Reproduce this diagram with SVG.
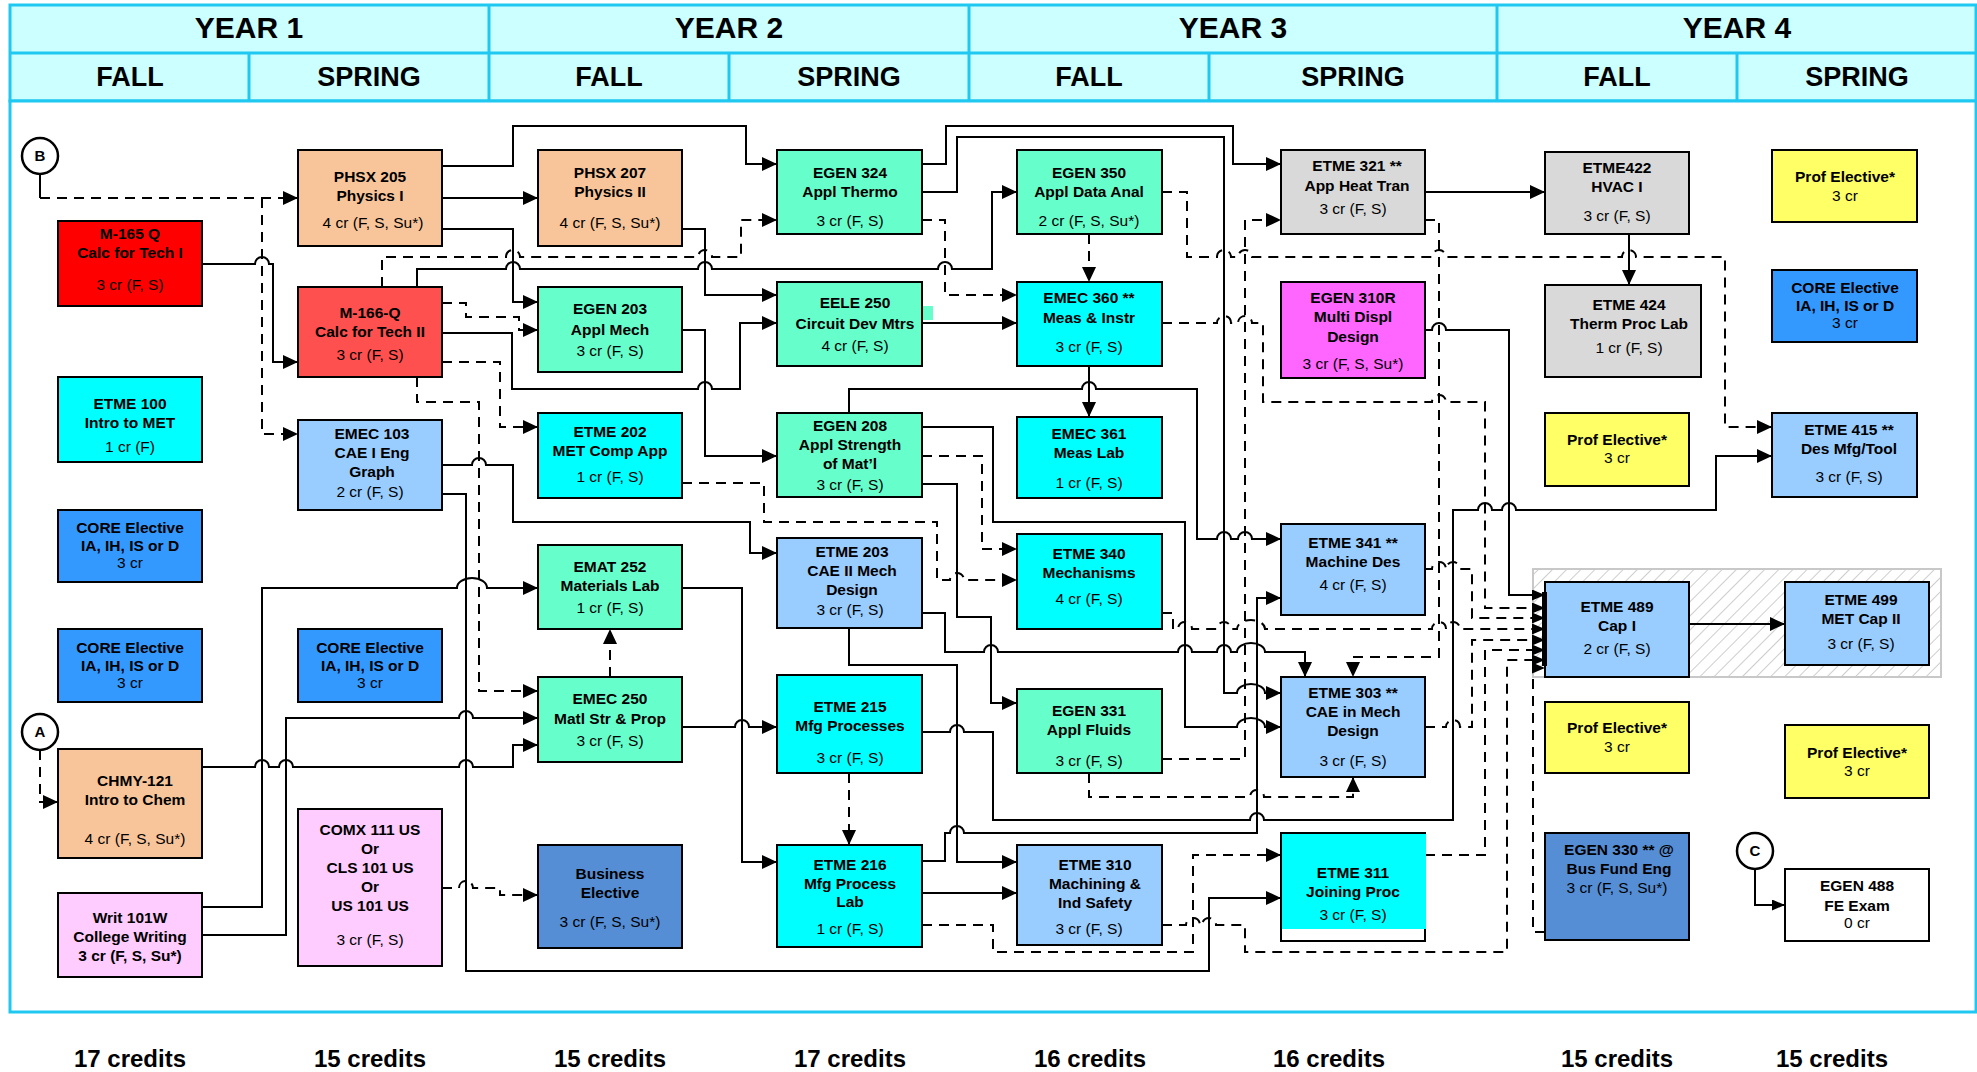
<svg xmlns="http://www.w3.org/2000/svg" width="1977" height="1072" viewBox="0 0 1977 1072">
<defs>
<style>
.hd{fill:#CCFFFF;stroke:#1EC8F0;stroke-width:3}
.hl{stroke:#1EC8F0;stroke-width:3}
.yr{font:bold 30px "Liberation Sans",Arial,sans-serif;text-anchor:middle;fill:#000}
.se{font:bold 27px "Liberation Sans",Arial,sans-serif;text-anchor:middle;fill:#000}
.cr{font:bold 24px "Liberation Sans",Arial,sans-serif;text-anchor:middle;fill:#000}
.n rect.b{stroke:#000;stroke-width:2}
.t{font:bold 15.5px "Liberation Sans",Arial,sans-serif;text-anchor:middle;fill:#000}
.c{font:15.5px "Liberation Sans",Arial,sans-serif;text-anchor:middle;fill:#000}
.s{fill:none;stroke:#000;stroke-width:2}
.d{fill:none;stroke:#000;stroke-width:2;stroke-dasharray:10 7}
.a{marker-end:url(#ah)}
.a2{marker-end:url(#ah2)}
.ci{fill:#fff;stroke:#000;stroke-width:2.5}
.cl{font:bold 15px "Liberation Sans",Arial,sans-serif;text-anchor:middle;fill:#000}
</style>
<marker id="ah" markerUnits="userSpaceOnUse" markerWidth="16" markerHeight="14" refX="15" refY="7" orient="auto"><path d="M0,0 L15,7 L0,14 z" fill="#000"/></marker>
<marker id="ah2" markerUnits="userSpaceOnUse" markerWidth="14" markerHeight="11" refX="13" refY="5.5" orient="auto"><path d="M0,0 L13,5.5 L0,11 z" fill="#000"/></marker>
<pattern id="hatch" patternUnits="userSpaceOnUse" width="10" height="10" patternTransform="rotate(45)"><line x1="0" y1="0" x2="0" y2="10" stroke="#BDBDBD" stroke-width="1.5"/></pattern>
</defs>

<g id="header">
<rect class="hd" x="10" y="5" width="1966" height="96"/>
<line class="hl" x1="10" y1="53" x2="1976" y2="53"/>
<line class="hl" x1="489" y1="5" x2="489" y2="101"/>
<line class="hl" x1="969" y1="5" x2="969" y2="101"/>
<line class="hl" x1="1497" y1="5" x2="1497" y2="101"/>
<line class="hl" x1="249" y1="53" x2="249" y2="101"/>
<line class="hl" x1="729" y1="53" x2="729" y2="101"/>
<line class="hl" x1="1209" y1="53" x2="1209" y2="101"/>
<line class="hl" x1="1737" y1="53" x2="1737" y2="101"/>
<text class="yr" x="249" y="38">YEAR 1</text>
<text class="yr" x="729" y="38">YEAR 2</text>
<text class="yr" x="1233" y="38">YEAR 3</text>
<text class="yr" x="1737" y="38">YEAR 4</text>
<text class="se" x="130" y="86">FALL</text>
<text class="se" x="369" y="86">SPRING</text>
<text class="se" x="609" y="86">FALL</text>
<text class="se" x="849" y="86">SPRING</text>
<text class="se" x="1089" y="86">FALL</text>
<text class="se" x="1353" y="86">SPRING</text>
<text class="se" x="1617" y="86">FALL</text>
<text class="se" x="1857" y="86">SPRING</text>
</g>
<rect x="10" y="101" width="1966" height="911" fill="#fff" stroke="#1EC8F0" stroke-width="3"/>
<g id="credits">
<text class="cr" x="130" y="1067">17 credits</text>
<text class="cr" x="370" y="1067">15 credits</text>
<text class="cr" x="610" y="1067">15 credits</text>
<text class="cr" x="850" y="1067">17 credits</text>
<text class="cr" x="1090" y="1067">16 credits</text>
<text class="cr" x="1329" y="1067">16 credits</text>
<text class="cr" x="1617" y="1067">15 credits</text>
<text class="cr" x="1832" y="1067">15 credits</text>
</g>
<rect id="capstone-band" x="1533" y="569" width="408" height="108" fill="url(#hatch)" stroke="#C8C8C8" stroke-width="2"/>

<g id="connectors">
<path class="s" d="M40,174 V198"/>
<path class="d a" d="M40,198 H298"/>
<path class="d a" d="M262,198 V434 H298"/>
<path class="s a" d="M202,264 H255 a7,7 0 0 1 14,0 H273 V362 H298"/>
<path class="s a" d="M442,198 H538"/>
<path class="s a" d="M442,166 H513 V126 H746 V164 H777"/>
<path class="s a" d="M442,229 H513 V302 H538"/>
<path class="d a" d="M382,287 V257 H506 a7,7 0 0 1 14,0 H698 a7,7 0 0 1 14,0 H741 V220 H777"/>
<path class="s a" d="M417,287 V269 H506 a7,7 0 0 1 14,0 H698 a7,7 0 0 1 14,0 H938 a7,7 0 0 1 14,0 H992 V192 H1017"/>
<path class="d a" d="M442,303 H466 V317 H519 V330 H538"/>
<path class="s a" d="M442,333 H512 V389 H698 a7,7 0 0 1 14,0 H740 V323 H777"/>
<path class="d a" d="M442,362 H500 V427 H538"/>
<path class="d a" d="M417,377 V402 H479 V691 H538"/>
<path class="s a" d="M442,465 H472 a7,7 0 0 1 14,0 H513 V522 H750 V553 H777"/>
<path class="s a" d="M442,494 H466 V971 H1209 V898 H1281"/>
<path class="s a" d="M202,907 H262 V588 H457 a15,10 0 0 1 30,0 H538"/>
<path class="s a" d="M202,935 H286 V718 H459 a7,7 0 0 1 14,0 H538"/>
<path class="s a" d="M202,767 H255 a7,7 0 0 1 14,0 H279 a7,7 0 0 1 14,0 H459 a7,7 0 0 1 14,0 H513 V745 H538"/>
<path class="d a" d="M40,750 V802 H58"/>
<path class="d a" d="M442,888 H459 a7,7 0 0 1 14,0 H500 V895 H538"/>
<path class="s a" d="M682,229 H705 V295 H777"/>
<path class="s a" d="M682,330 H705 V456 H777"/>
<path class="s a" d="M682,588 H742 V862 H777"/>
<path class="d a" d="M610,677 V629"/>
<path class="s a" d="M682,727 H735 a7,7 0 0 1 14,0 H777"/>
<path class="d a" d="M849,773 V845"/>
<path class="d a" d="M682,483 H764 V522 H937 V580 H950 a7,7 0 0 1 14,0 H1017"/>
<path class="s a" d="M922,164 H946 V126 H1233 V164 H1281"/>
<path class="s a" d="M922,192 H957 V137 H1224 V693 H1237 a14,9 0 0 1 28,0 H1281"/>
<path class="d a" d="M922,220 H945 V295 H1017"/>
<path class="s a" d="M922,323 H1017"/>
<path class="d a" d="M1089,234 V282"/>
<path class="d a" d="M1162,192 H1187 V257 H1217 a7,7 0 0 1 14,0 H1238 a7,7 0 0 1 14,0 H1432 a7,7 0 0 1 14,0 H1622 a7,7 0 0 1 14,0 H1725 V427 H1772"/>
<path class="s a" d="M1089,366 V417"/>
<path class="d a2" d="M1162,323 H1217 a7,7 0 0 1 14,0 H1238 a7,7 0 0 1 14,0 H1263 V402 H1432 a7,7 0 0 1 14,0 H1485 V608 H1545"/>
<path class="s a" d="M849,413 V389 H1082 a7,7 0 0 1 14,0 H1197 V539 H1217 a7,7 0 0 1 14,0 H1238 a7,7 0 0 1 14,0 H1281"/>
<path class="s a" d="M922,427 H993 V522 H1185 V727 H1237 a14,9 0 0 1 28,0 H1281"/>
<path class="d a" d="M922,456 H982 V549 H1017"/>
<path class="s a" d="M922,484 H957 V617 H991 V703 H1017"/>
<path class="s a" d="M922,613 H945 V652 H984 a7,7 0 0 1 14,0 H1178 a7,7 0 0 1 14,0 H1217 a7,7 0 0 1 14,0 H1237 a14,9 0 0 1 28,0 H1305 V677"/>
<path class="s a" d="M849,628 V665 H957 V862 H1017"/>
<path class="s a" d="M922,732 H950 a7,7 0 0 1 14,0 H993 V820 H1250 a7,7 0 0 1 14,0 H1453 V510 H1478 a7,7 0 0 1 14,0 H1502 a7,7 0 0 1 14,0 H1716 V456 H1772"/>
<path class="s a" d="M922,861 H945 V833 H950 a7,7 0 0 1 14,0 H1257 V598 H1281"/>
<path class="s a" d="M922,893 H1017"/>
<path class="d a" d="M922,925 H993 V952 H1193 V855 H1281"/>
<path class="d a2" d="M1162,925 H1186 a7,7 0 0 1 14,0 H1202 a7,7 0 0 1 14,0 H1245 V952 H1507 V660 H1545"/>
<path class="d a" d="M1162,759 H1245 V220 H1281"/>
<path class="d a" d="M1089,773 V797 H1250 a7,7 0 0 1 14,0 H1353 V777"/>
<path class="s a" d="M1425,192 H1545"/>
<path class="d a" d="M1425,220 H1439 V657 H1353 V677"/>
<path class="s a" d="M1629,234 V285"/>
<path class="s a2" d="M1425,330 H1432 a7,7 0 0 1 14,0 H1509 V595 H1545"/>
<path class="d a2" d="M1425,569 H1432 a7,7 0 0 1 14,0 H1446 a7,7 0 0 1 14,0 H1472 V618 H1545"/>
<path class="d a2" d="M1162,613 H1173 V629 H1178 a7,7 0 0 1 14,0 H1217 a7,7 0 0 1 14,0 H1237 a14,9 0 0 1 28,0 H1432 a7,7 0 0 1 14,0 H1446 a7,7 0 0 1 14,0 H1545"/>
<path class="d a2" d="M1425,727 H1446 a7,7 0 0 1 14,0 H1472 V640 H1545"/>
<path class="d a2" d="M1425,855 H1485 V650 H1545"/>
<path class="d a2" d="M1545,932 H1533 V668 H1545"/>
<path class="s a" d="M1689,624 H1785"/>
<path class="s a2" d="M1755,869 V905 H1785"/>
</g>

<g id="n-m165" class="n"><rect class="b" x="58" y="221" width="144" height="85" fill="#FF0000"/><text class="t" x="130" y="239">M-165 Q</text><text class="t" x="130" y="258">Calc for Tech I</text><text class="c" x="130" y="290">3 cr (F, S)</text></g>
<g id="n-etme100" class="n"><rect class="b" x="58" y="377" width="144" height="85" fill="#00FFFF"/><text class="t" x="130" y="409">ETME 100</text><text class="t" x="130" y="428">Intro to MET</text><text class="c" x="130" y="452">1 cr (F)</text></g>
<g id="n-core1" class="n"><rect class="b" x="58" y="510" width="144" height="72" fill="#3399FF"/><text class="t" x="130" y="533">CORE Elective</text><text class="t" x="130" y="551">IA, IH, IS or D</text><text class="c" x="130" y="568">3 cr</text></g>
<g id="n-core2" class="n"><rect class="b" x="58" y="629" width="144" height="73" fill="#3399FF"/><text class="t" x="130" y="653">CORE Elective</text><text class="t" x="130" y="671">IA, IH, IS or D</text><text class="c" x="130" y="688">3 cr</text></g>
<g id="n-chmy121" class="n"><rect class="b" x="58" y="749" width="144" height="109" fill="#F8C59B"/><text class="t" x="135" y="786">CHMY-121</text><text class="t" x="135" y="805">Intro to Chem</text><text class="c" x="135" y="844">4 cr (F, S, Su*)</text></g>
<g id="n-writ101" class="n"><rect class="b" x="58" y="893" width="144" height="84" fill="#FFCCFF"/><text class="t" x="130" y="923">Writ 101W</text><text class="t" x="130" y="942">College Writing</text><text class="t" x="130" y="961">3 cr (F, S, Su*)</text></g>
<g id="n-phsx205" class="n"><rect class="b" x="298" y="150" width="144" height="96" fill="#F8C59B"/><text class="t" x="370" y="182">PHSX 205</text><text class="t" x="370" y="201">Physics I</text><text class="c" x="373" y="228">4 cr (F, S, Su*)</text></g>
<g id="n-m166" class="n"><rect class="b" x="298" y="287" width="144" height="90" fill="#FF5050"/><text class="t" x="370" y="318">M-166-Q</text><text class="t" x="370" y="337">Calc for Tech II</text><text class="c" x="370" y="360">3 cr (F, S)</text></g>
<g id="n-emec103" class="n"><rect class="b" x="298" y="420" width="144" height="90" fill="#99CCFF"/><text class="t" x="372" y="439">EMEC 103</text><text class="t" x="372" y="458">CAE I Eng</text><text class="t" x="372" y="477">Graph</text><text class="c" x="370" y="497">2 cr (F, S)</text></g>
<g id="n-core3" class="n"><rect class="b" x="298" y="629" width="144" height="73" fill="#3399FF"/><text class="t" x="370" y="653">CORE Elective</text><text class="t" x="370" y="671">IA, IH, IS or D</text><text class="c" x="370" y="688">3 cr</text></g>
<g id="n-comx111" class="n"><rect class="b" x="298" y="809" width="144" height="157" fill="#FFCCFF"/><text class="t" x="370" y="835">COMX 111 US</text><text class="t" x="370" y="854">Or</text><text class="t" x="370" y="873">CLS 101 US</text><text class="t" x="370" y="892">Or</text><text class="t" x="370" y="911">US 101 US</text><text class="c" x="370" y="945">3 cr (F, S)</text></g>
<g id="n-phsx207" class="n"><rect class="b" x="538" y="150" width="144" height="96" fill="#F8C59B"/><text class="t" x="610" y="178">PHSX 207</text><text class="t" x="610" y="197">Physics II</text><text class="c" x="610" y="228">4 cr (F, S, Su*)</text></g>
<g id="n-egen203" class="n"><rect class="b" x="538" y="287" width="144" height="85" fill="#66FFCC"/><text class="t" x="610" y="314">EGEN 203</text><text class="t" x="610" y="335">Appl Mech</text><text class="c" x="610" y="356">3 cr (F, S)</text></g>
<g id="n-etme202" class="n"><rect class="b" x="538" y="413" width="144" height="85" fill="#00FFFF"/><text class="t" x="610" y="437">ETME 202</text><text class="t" x="610" y="456">MET Comp App</text><text class="c" x="610" y="482">1 cr (F, S)</text></g>
<g id="n-emat252" class="n"><rect class="b" x="538" y="545" width="144" height="84" fill="#66FFCC"/><text class="t" x="610" y="572">EMAT 252</text><text class="t" x="610" y="591">Materials Lab</text><text class="c" x="610" y="613">1 cr (F, S)</text></g>
<g id="n-emec250" class="n"><rect class="b" x="538" y="677" width="144" height="85" fill="#66FFCC"/><text class="t" x="610" y="704">EMEC 250</text><text class="t" x="610" y="724">Matl Str &amp; Prop</text><text class="c" x="610" y="746">3 cr (F, S)</text></g>
<g id="n-bus" class="n"><rect class="b" x="538" y="845" width="144" height="103" fill="#558ED5"/><text class="t" x="610" y="879">Business</text><text class="t" x="610" y="898">Elective</text><text class="c" x="610" y="927">3 cr (F, S, Su*)</text></g>
<g id="n-egen324" class="n"><rect class="b" x="777" y="150" width="145" height="84" fill="#66FFCC"/><text class="t" x="850" y="178">EGEN 324</text><text class="t" x="850" y="197">Appl Thermo</text><text class="c" x="850" y="226">3 cr (F, S)</text></g>
<g id="n-eele250" class="n"><rect class="b" x="777" y="282" width="145" height="84" fill="#66FFCC"/><rect x="923" y="306" width="10" height="14" fill="#66FFCC"/><text class="t" x="855" y="308">EELE 250</text><text class="t" x="855" y="329">Circuit Dev Mtrs</text><text class="c" x="855" y="351">4 cr (F, S)</text></g>
<g id="n-egen208" class="n"><rect class="b" x="777" y="413" width="145" height="84" fill="#66FFCC"/><text class="t" x="850" y="431">EGEN 208</text><text class="t" x="850" y="450">Appl Strength</text><text class="t" x="850" y="469">of Mat’l</text><text class="c" x="850" y="490">3 cr (F, S)</text></g>
<g id="n-etme203" class="n"><rect class="b" x="777" y="538" width="145" height="90" fill="#99CCFF"/><text class="t" x="852" y="557">ETME 203</text><text class="t" x="852" y="576">CAE II Mech</text><text class="t" x="852" y="595">Design</text><text class="c" x="850" y="615">3 cr (F, S)</text></g>
<g id="n-etme215" class="n"><rect class="b" x="777" y="675" width="145" height="98" fill="#00FFFF"/><text class="t" x="850" y="712">ETME 215</text><text class="t" x="850" y="731">Mfg Processes</text><text class="c" x="850" y="763">3 cr (F, S)</text></g>
<g id="n-etme216" class="n"><rect class="b" x="777" y="845" width="145" height="102" fill="#00FFFF"/><text class="t" x="850" y="870">ETME 216</text><text class="t" x="850" y="889">Mfg Process</text><text class="t" x="850" y="907">Lab</text><text class="c" x="850" y="934">1 cr (F, S)</text></g>
<g id="n-egen350" class="n"><rect class="b" x="1017" y="150" width="145" height="84" fill="#66FFCC"/><text class="t" x="1089" y="178">EGEN 350</text><text class="t" x="1089" y="197">Appl Data Anal</text><text class="c" x="1089" y="226">2 cr (F, S, Su*)</text></g>
<g id="n-emec360" class="n"><rect class="b" x="1017" y="282" width="145" height="84" fill="#00FFFF"/><text class="t" x="1089" y="303">EMEC 360 **</text><text class="t" x="1089" y="323">Meas &amp; Instr</text><text class="c" x="1089" y="352">3 cr (F, S)</text></g>
<g id="n-emec361" class="n"><rect class="b" x="1017" y="417" width="145" height="81" fill="#00FFFF"/><text class="t" x="1089" y="439">EMEC 361</text><text class="t" x="1089" y="458">Meas Lab</text><text class="c" x="1089" y="488">1 cr (F, S)</text></g>
<g id="n-etme340" class="n"><rect class="b" x="1017" y="534" width="145" height="95" fill="#00FFFF"/><text class="t" x="1089" y="559">ETME 340</text><text class="t" x="1089" y="578">Mechanisms</text><text class="c" x="1089" y="604">4 cr (F, S)</text></g>
<g id="n-egen331" class="n"><rect class="b" x="1017" y="689" width="145" height="84" fill="#66FFCC"/><text class="t" x="1089" y="716">EGEN 331</text><text class="t" x="1089" y="735">Appl Fluids</text><text class="c" x="1089" y="766">3 cr (F, S)</text></g>
<g id="n-etme310" class="n"><rect class="b" x="1017" y="845" width="145" height="100" fill="#99CCFF"/><text class="t" x="1095" y="870">ETME 310</text><text class="t" x="1095" y="889">Machining &amp;</text><text class="t" x="1095" y="908">Ind Safety</text><text class="c" x="1089" y="934">3 cr (F, S)</text></g>
<g id="n-etme321" class="n"><rect class="b" x="1281" y="150" width="144" height="84" fill="#D9D9D9"/><text class="t" x="1357" y="171">ETME 321 **</text><text class="t" x="1357" y="191">App Heat Tran</text><text class="c" x="1353" y="214">3 cr (F, S)</text></g>
<g id="n-egen310r" class="n"><rect class="b" x="1281" y="282" width="144" height="96" fill="#FF66FF"/><text class="t" x="1353" y="303">EGEN 310R</text><text class="t" x="1353" y="322">Multi Displ</text><text class="t" x="1353" y="342">Design</text><text class="c" x="1353" y="369">3 cr (F, S, Su*)</text></g>
<g id="n-etme341" class="n"><rect class="b" x="1281" y="524" width="144" height="91" fill="#99CCFF"/><text class="t" x="1353" y="548">ETME 341 **</text><text class="t" x="1353" y="567">Machine Des</text><text class="c" x="1353" y="590">4 cr (F, S)</text></g>
<g id="n-etme303" class="n"><rect class="b" x="1281" y="677" width="144" height="100" fill="#99CCFF"/><text class="t" x="1353" y="698">ETME 303 **</text><text class="t" x="1353" y="717">CAE in Mech</text><text class="t" x="1353" y="736">Design</text><text class="c" x="1353" y="766">3 cr (F, S)</text></g>
<g id="n-etme311" class="n"><rect class="b" x="1281" y="833" width="144" height="108" fill="#fff"/><rect x="1282" y="834" width="144" height="95" fill="#00FFFF"/><text class="t" x="1353" y="878">ETME 311</text><text class="t" x="1353" y="897">Joining Proc</text><text class="c" x="1353" y="920">3 cr (F, S)</text></g>
<g id="n-etme422" class="n"><rect class="b" x="1545" y="152" width="144" height="82" fill="#D9D9D9"/><text class="t" x="1617" y="173">ETME422</text><text class="t" x="1617" y="192">HVAC I</text><text class="c" x="1617" y="221">3 cr (F, S)</text></g>
<g id="n-etme424" class="n"><rect class="b" x="1545" y="285" width="156" height="92" fill="#D9D9D9"/><text class="t" x="1629" y="310">ETME 424</text><text class="t" x="1629" y="329">Therm Proc Lab</text><text class="c" x="1629" y="353">1 cr (F, S)</text></g>
<g id="n-prof1" class="n"><rect class="b" x="1545" y="413" width="144" height="73" fill="#FFFF66"/><text class="t" x="1617" y="445">Prof Elective*</text><text class="c" x="1617" y="463">3 cr</text></g>
<g id="n-etme489" class="n"><rect class="b" x="1545" y="582" width="144" height="95" fill="#99CCFF"/><rect x="1542" y="592" width="5" height="74" fill="#000"/><text class="t" x="1617" y="612">ETME 489</text><text class="t" x="1617" y="631">Cap I</text><text class="c" x="1617" y="654">2 cr (F, S)</text></g>
<g id="n-prof2" class="n"><rect class="b" x="1545" y="702" width="144" height="71" fill="#FFFF66"/><text class="t" x="1617" y="733">Prof Elective*</text><text class="c" x="1617" y="752">3 cr</text></g>
<g id="n-egen330" class="n"><rect class="b" x="1545" y="833" width="144" height="107" fill="#558ED5"/><text class="t" x="1619" y="855">EGEN 330 ** @</text><text class="t" x="1619" y="874">Bus Fund Eng</text><text class="c" x="1617" y="893">3 cr (F, S, Su*)</text></g>
<g id="n-prof3" class="n"><rect class="b" x="1772" y="150" width="145" height="72" fill="#FFFF66"/><text class="t" x="1845" y="182">Prof Elective*</text><text class="c" x="1845" y="201">3 cr</text></g>
<g id="n-core4" class="n"><rect class="b" x="1772" y="270" width="145" height="72" fill="#3399FF"/><text class="t" x="1845" y="293">CORE Elective</text><text class="t" x="1845" y="311">IA, IH, IS or D</text><text class="c" x="1845" y="328">3 cr</text></g>
<g id="n-etme415" class="n"><rect class="b" x="1772" y="413" width="145" height="84" fill="#99CCFF"/><text class="t" x="1849" y="435">ETME 415 **</text><text class="t" x="1849" y="454">Des Mfg/Tool</text><text class="c" x="1849" y="482">3 cr (F, S)</text></g>
<g id="n-etme499" class="n"><rect class="b" x="1785" y="582" width="144" height="83" fill="#99CCFF"/><text class="t" x="1861" y="605">ETME 499</text><text class="t" x="1861" y="624">MET Cap II</text><text class="c" x="1861" y="649">3 cr (F, S)</text></g>
<g id="n-prof4" class="n"><rect class="b" x="1785" y="725" width="144" height="73" fill="#FFFF66"/><text class="t" x="1857" y="758">Prof Elective*</text><text class="c" x="1857" y="776">3 cr</text></g>
<g id="n-egen488" class="n"><rect class="b" x="1785" y="869" width="144" height="72" fill="#fff"/><text class="t" x="1857" y="891">EGEN 488</text><text class="t" x="1857" y="911">FE Exam</text><text class="c" x="1857" y="928">0 cr</text></g>
<g id="n-b"><circle class="ci" cx="40" cy="156" r="18"/><text class="cl" x="40" y="161">B</text></g>
<g id="n-a"><circle class="ci" cx="40" cy="732" r="18"/><text class="cl" x="40" y="737">A</text></g>
<g id="n-c"><circle class="ci" cx="1755" cy="851" r="18"/><text class="cl" x="1755" y="856">C</text></g>
</svg>
